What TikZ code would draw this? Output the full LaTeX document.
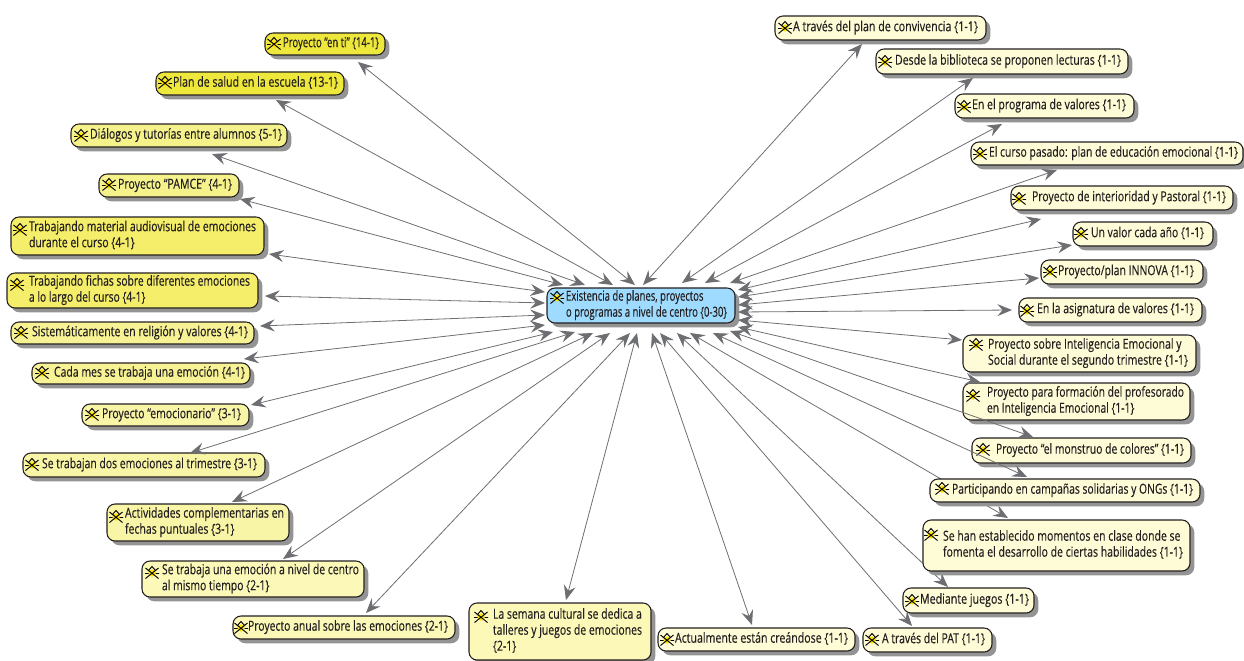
\documentclass[tikz,border=0pt]{standalone}
\usepackage{fontspec}
\usepackage{graphicx}
\setmainfont[FakeStretch=0.76,FakeBold=0.3]{Open Sans}
\usetikzlibrary{arrows.meta,calc,shadows}
\definecolor{yA}{HTML}{EFE83C}
\definecolor{yS}{HTML}{F5EE6A}
\definecolor{yB}{HTML}{F5F28B}
\definecolor{yC}{HTML}{F7F294}
\definecolor{yD}{HTML}{F9F5A6}
\definecolor{yF}{HTML}{FBF8B8}
\definecolor{yE}{HTML}{FEFCD6}
\definecolor{cB}{HTML}{9EDBFF}
\definecolor{lnc}{HTML}{6D6E71}
\definecolor{inkc}{HTML}{231F20}
\tikzset{
  x=0.75pt,y=-0.75pt,
  boxn/.style={draw=inkc,line width=0.8pt,rounded corners=6pt,inner sep=0pt,anchor=center,text=inkc,
    general shadow={fill=black!42,draw=none,shadow xshift=3.2pt,shadow yshift=-3.2pt}},
  conn/.style={draw=lnc,line width=0.6pt,
    {Stealth[length=11pt,width=9pt,inset=4pt,fill=lnc]}-{Stealth[length=11pt,width=9pt,inset=4pt,fill=lnc]}},
}
\newcommand\icn[1]{%
  \begin{scope}[shift={(#1)},line width=0.7pt,black]
    \fill[yellow!85!orange] (0,0) circle[radius=3.6];
    \draw (-6.5,5.5)--(6.5,-5) (-6.5,-5)--(6.5,5.5);
    \draw (-4,-2)--(0,-6.5)--(4,-2) (-7,0.5)--(-3.5,0.5) (3.5,0.5)--(7,0.5);
  \end{scope}}
\def\splt#1/#2\relax{\def\tsx{#1}\def\tex{#2}}
% #1 fill, #2 name, #3-#6 box, #7 text start/end x, #8 text, #9 icon centre
\def\bx#1#2#3#4#5#6#7#8#9{%
  \splt#7\relax
  \pgfmathsetmacro\bww{#5-(#3)}\pgfmathsetmacro\bhh{#6-(#4)}%
  \pgfmathsetmacro\cxx{((#3)+(#5))/2}\pgfmathsetmacro\cyy{((#4)+(#6))/2}%
  \pgfmathsetlengthmacro\bwl{\bww*0.75pt}\pgfmathsetlengthmacro\tpl{(\tsx-(#3))*0.75pt}%
  \pgfmathsetlengthmacro\twl{(\tex-\tsx)*0.75pt}%
  \expandafter\xdef\csname cx@#2\endcsname{\cxx}\expandafter\xdef\csname cy@#2\endcsname{\cyy}%
  \node[boxn,fill=#1,minimum width=\bww*0.75pt,minimum height=\bhh*0.75pt] (#2) at (\cxx,\cyy)
    {\makebox[\bwl][l]{\hspace*{\tpl}\raisebox{-1pt}{\resizebox{\twl}{\height}{\begin{tabular}{@{}l@{}}#8\end{tabular}}}}};
  \icn{#9}}
% #1 node, #2 #3 tip at node, #4 #5 tip at centre box
\newcommand\lnk[5]{%
  \draw[conn] ($(cen)+(#4-641,#5-305.5)$) -- ($(#1)+(#2-\csname cx@#1\endcsname,#3-\csname cy@#1\endcsname)$);}
\begin{document}
\begin{tikzpicture}
\useasboundingbox (0,0) rectangle (1244,660);
\fontsize{10.4}{12}\selectfont
\renewcommand\arraystretch{1}
\setlength\tabcolsep{0pt}
\bx{cB}{cen}{547}{288}{735}{323}{566/727}{Existencia de planes, proyectos\\o programas a nivel de centro \{0-30\}}{557,298}
\bx{yA}{n1}{265}{33}{385}{55}{283/379}{Proyecto “en ti” \{14-1\}}{274,44}
\bx{yA}{n2}{156}{72}{344}{95}{173/338}{Plan de salud en la escuela \{13-1\}}{165,83}
\bx{yB}{n3}{71}{124}{287}{147}{90/282}{Diálogos y tutorías entre alumnos \{5-1\}}{81,136}
\bx{yB}{n4}{99}{174}{239}{197}{118/232}{Proyecto “PAMCE” \{4-1\}}{109,185}
\bx{yS}{n5}{11}{217}{264}{255}{29/256}{Trabajando material audiovisual de emociones\\durante el curso \{4-1\}}{20,230}
\bx{yS}{n6}{7}{273}{258}{308}{29/250}{Trabajando fichas sobre diferentes emociones\\a lo largo del curso \{4-1\}}{17,285}
\bx{yC}{n7}{11}{322}{254}{344}{32/248}{Sistemáticamente en religión y valores \{4-1\}}{21,333}
\bx{yC}{n8}{32}{363}{250}{384}{54/245}{Cada mes se trabaja una emoción \{4-1\}}{42,373}
\bx{yD}{n9}{82}{404}{249}{426}{102/241}{Proyecto “emocionario” \{3-1\}}{92,415}
\bx{yD}{n10}{23}{453}{265}{477}{42/257}{Se trabajan dos emociones al trimestre \{3-1\}}{32,465}
\bx{yD}{n11}{107}{504}{289}{541}{125/284}{Actividades complementarias en\\fechas puntuales \{3-1\}}{116,517}
\bx{yF}{n12}{142}{561}{364}{597}{162/359}{Se trabaja una emoción a nivel de centro\\al mismo tiempo \{2-1\}}{152,573}
\bx{yF}{n13}{233}{616}{455}{639}{248/448}{Proyecto anual sobre las emociones \{2-1\}}{241,628}
\bx{yF}{n14}{469}{603}{651}{660}{493/642}{La semana cultural se dedica a\\talleres y juegos de emociones\\\{2-1\}}{481,617}
\bx{yE}{n15}{658}{628}{855}{651}{675/848}{Actualmente están creándose \{1-1\}}{667,640}
\bx{yE}{n16}{863}{628}{992}{652}{882/985}{A través del PAT \{1-1\}}{872,640}
\bx{yE}{n17}{903}{588}{1034}{613}{920/1029}{Mediante juegos \{1-1\}}{912,601}
\lnk{n17}{948}{587}{677}{333}
\bx{yE}{n18}{923}{520}{1190}{571}{943/1183}{Se han establecido momentos en clase donde se\\fomenta el desarrollo de ciertas habilidades \{1-1\}}{931,535}
\lnk{n18}{1008}{518}{690}{333}
\bx{yE}{n19}{930}{479}{1200}{502}{952/1193}{Participando en campañas solidarias y ONGs \{1-1\}}{942,489}
\bx{yE}{n20}{972}{438}{1191}{463}{996/1184}{Proyecto “el monstruo de colores” \{1-1\}}{983,450}
\bx{yE}{n21}{963}{383}{1190}{420}{987/1184}{Proyecto para formación del profesorado\\en Inteligencia Emocional \{1-1\}}{973,396}
\bx{yE}{n22}{963}{335}{1196}{372}{988/1188}{Proyecto sobre Inteligencia Emocional y\\Social durante el segundo trimestre \{1-1\}}{976,345}
\bx{yE}{n23}{1019}{298}{1202}{322}{1037/1194}{En la asignatura de valores \{1-1\}}{1027,311}
\bx{yE}{n24}{1041}{260}{1203}{284}{1058/1194}{Proyecto/plan INNOVA \{1-1\}}{1050,272}
\bx{yE}{n25}{1073}{222}{1213}{246}{1091/1204}{Un valor cada año \{1-1\}}{1081,234}
\bx{yE}{n26}{1011}{186}{1233}{210}{1032/1226}{Proyecto de interioridad y Pastoral \{1-1\}}{1019,199}
\bx{yE}{n27}{971}{142}{1243}{165}{989/1238}{El curso pasado: plan de educación emocional \{1-1\}}{980,154}
\bx{yE}{n28}{955}{94}{1134}{118}{972/1126}{En el programa de valores \{1-1\}}{964,107}
\bx{yE}{n29}{876}{49}{1128}{74}{895/1121}{Desde la biblioteca se proponen lecturas \{1-1\}}{885,62}
\bx{yE}{n30}{775}{16}{986}{40}{793/978}{A través del plan de convivencia \{1-1\}}{785,28}
\lnk{n1}{358}{62}{635}{285}
\lnk{n2}{276}{100}{613}{285}
\lnk{n3}{212}{154}{585}{285}
\lnk{n4}{240}{199}{563}{285}
\lnk{n5}{269}{254}{545}{292}
\lnk{n6}{265}{296}{545}{303}
\lnk{n7}{260}{326}{545}{315}
\lnk{n8}{244}{359}{545}{325}
\lnk{n9}{251}{405}{553}{332}
\lnk{n10}{190}{453}{575}{332}
\lnk{n11}{232}{502}{593}{333}
\lnk{n12}{283}{559}{610}{333}
\lnk{n13}{366}{613}{630}{333}
\lnk{n14}{566}{600}{637}{333}
\lnk{n15}{752}{625}{652}{333}
\lnk{n16}{912}{626}{660}{333}
\lnk{n19}{1027}{477}{713}{333}
\lnk{n20}{1033}{437}{730}{331}
\lnk{n21}{980}{382}{738}{327}
\lnk{n22}{962}{340}{738}{320}
\lnk{n23}{1012}{310}{738}{312}
\lnk{n24}{1039}{278}{738}{305}
\lnk{n25}{1072}{245}{738}{297}
\lnk{n26}{1041}{219}{738}{290}
\lnk{n27}{1057}{170}{730}{283}
\lnk{n28}{1002}{124}{705}{283}
\lnk{n29}{973}{78}{682}{283}
\lnk{n30}{862}{44}{643}{285}
\end{tikzpicture}
\end{document}
